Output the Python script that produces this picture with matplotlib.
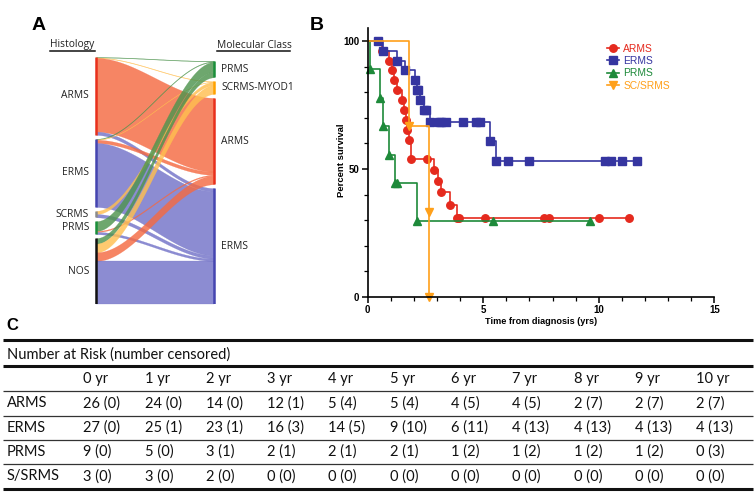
import numpy as np
import matplotlib
matplotlib.use("Agg")
import matplotlib.pyplot as plt

# ---- panel A: sankey (histology -> molecular class) ----
hist_names = ["ARMS", "ERMS", "SCRMS", "PRMS", "NOS"]
mol_names = ["PRMS", "SCRMS-MYOD1", "ARMS", "ERMS"]
# weights per histology row, columns follow mol_names
flow_arms = [0.15, 0.15, 22.7, 1.0]
flow_erms = [0.2, 0.1, 1.0, 19.7]
flow_scrms = [0.0, 1.0, 0.0, 1.0]
flow_prms = [3.0, 0.0, 0.3, 0.7]
flow_nos = [1.7, 2.7, 2.6, 13.3]

# ---- panel B: Kaplan-Meier ----
arms_t = [0.63, 0.92, 1.07, 1.15, 1.25, 1.47, 1.59, 1.66, 1.72, 1.80, 1.86, 2.57,
          2.87, 3.06, 3.19, 3.55, 3.85, 3.97, 5.06, 7.65, 7.84, 10.03, 11.31]
arms_s = [96.2, 92.3, 88.5, 84.6, 80.8, 76.9, 73.1, 69.2, 65.4, 61.5, 53.8, 53.8,
          49.7, 45.5, 41.2, 35.8, 30.7, 30.7, 30.7, 30.7, 30.7, 30.7, 30.7]
erms_t = [0.45, 0.65, 1.27, 1.61, 2.04, 2.14, 2.18, 2.27, 2.45, 2.52, 2.68, 3.10,
          3.18, 3.38, 4.14, 4.69, 4.86, 5.31, 5.57, 6.06, 6.98, 10.27, 10.53, 11.02, 11.66]
erms_s = [100, 96.2, 92.3, 88.5, 84.6, 80.8, 80.8, 76.9, 73.1, 73.1, 68.4, 68.4,
          68.4, 68.4, 68.4, 68.4, 68.4, 60.8, 53.2, 53.2, 53.2, 53.2, 53.2, 53.2, 53.2]
prms_t = [0.10, 0.52, 0.65, 0.91, 1.18, 1.28, 2.12, 5.41, 9.61]
prms_s = [88.9, 77.8, 66.7, 55.6, 44.4, 44.4, 29.6, 29.6, 29.6]
scs_t = [1.79, 2.65, 2.65]
scs_s = [66.7, 33.3, 0.0]

# ---- panel C: number at risk table ----
risk_cols = ["0 yr", "1 yr", "2 yr", "3 yr", "4 yr", "5 yr", "6 yr", "7 yr", "8 yr", "9 yr", "10 yr"]
risk_rows = ["ARMS", "ERMS", "PRMS", "S/SRMS"]
risk_arms = ["26 (0)", "24 (0)", "14 (0)", "12 (1)", "5 (4)", "5 (4)", "4 (5)", "4 (5)", "2 (7)", "2 (7)", "2 (7)"]
risk_erms = ["27 (0)", "25 (1)", "23 (1)", "16 (3)", "14 (5)", "9 (10)", "6 (11)", "4 (13)", "4 (13)", "4 (13)", "4 (13)"]
risk_prms = ["9 (0)", "5 (0)", "3 (1)", "2 (1)", "2 (1)", "2 (1)", "1 (2)", "1 (2)", "1 (2)", "1 (2)", "0 (3)"]
risk_scs = ["3 (0)", "3 (0)", "2 (0)", "0 (0)", "0 (0)", "0 (0)", "0 (0)", "0 (0)", "0 (0)", "0 (0)", "0 (0)"]

W, H = 756, 496
fig = plt.figure(figsize=(W / 100, H / 100), dpi=100)

# overlay axes in pixel coords for labels / table
ov = fig.add_axes([0, 0, 1, 1])
ov.set_xlim(0, W)
ov.set_ylim(H, 0)
ov.axis("off")

lab_font = "Open Sans"
tab_font = "Lato"

# ================= A =================
flows = np.array([flow_arms, flow_erms, flow_scrms, flow_prms, flow_nos])
band_col = ["#4e944e", "#ffbf50", "#f56a42", "#7373c8"]
mol_node_col = ["#1a8f3a", "#ffa200", "#e8301c", "#4545b0"]
hist_node_col = ["#e8301c", "#4545b0", "#8c8c8c", "#1a8f3a", "#111111"]

gap = 1.2
hist_tot = flows.sum(axis=1)
mol_tot = flows.sum(axis=0)
ytop_l = hist_tot.sum() + gap * (len(hist_tot) - 1)
ytop_r = mol_tot.sum() + gap * (len(mol_tot) - 1)

axA = fig.add_axes([90 / W, (H - 304) / H, 130 / W, 247 / H])
axA.set_xlim(-6 / 118, 1 + 6 / 118)
axA.set_ylim(0, ytop_l)
axA.axis("off")

# node extents
hist_top = []
y = ytop_l
for h in hist_tot:
    hist_top.append(y)
    y -= h + gap
mol_top = []
y = ytop_r
for h in mol_tot:
    mol_top.append(y)
    y -= h + gap

src_off = list(hist_top)
tgt_off = list(mol_top)
xs = np.linspace(0, 1, 150)
sm = 3 * xs ** 2 - 2 * xs ** 3
bands = []
for i in range(len(hist_names)):
    for j in range(len(mol_names)):
        w = flows[i, j]
        if w <= 0:
            continue
        s0 = src_off[i]
        src_off[i] -= w
        bands.append((i, j, w, s0))
for i, j, w, s0 in bands:
    t0 = tgt_off[j]
    tgt_off[j] -= w
    top = s0 + (t0 - s0) * sm
    bot = top - w
    axA.fill_between(xs, bot, top, color=band_col[j], alpha=0.82, lw=0.2,
                     edgecolor=band_col[j])

for i, name in enumerate(hist_names):
    t = hist_top[i]
    b = t - hist_tot[i]
    axA.vlines(0, b, t, color=hist_node_col[i], lw=1.8)
    axA.text(-0.06, (t + b) / 2, name, ha="right", va="center",
             fontsize=7.4, family=lab_font, color="#222222")
for j, name in enumerate(mol_names):
    t = mol_top[j]
    b = t - mol_tot[j]
    axA.vlines(1, b, t, color=mol_node_col[j], lw=1.8)
    axA.text(1.06, (t + b) / 2, name, ha="left", va="center",
             fontsize=7.4, family=lab_font, color="#222222")

ov.text(50, 45, "Histology", ha="left", va="center", fontsize=7.4, family=lab_font, color="#222222")
ov.plot([50, 95], [51, 51], color="#111111", lw=1.1)
ov.text(217, 45, "Molecular Class", ha="left", va="center", fontsize=7.4, family=lab_font, color="#222222")
ov.plot([217, 290], [51, 51], color="#111111", lw=1.1)

ov.text(39, 25, "A", ha="center", va="center", fontsize=14, fontweight="bold", family="Liberation Sans")
ov.text(317, 25, "B", ha="center", va="center", fontsize=14, fontweight="bold", family="Liberation Sans")
ov.text(12, 326, "C", ha="center", va="center", fontsize=12, fontweight="bold", family="Liberation Sans")

# ================= B =================
axB = fig.add_axes([367.7 / W, (H - 297) / H, 346.6 / W, 268.8 / H])
km = [
    ("ARMS", arms_t, arms_s, "#e52a1e", "o"),
    ("ERMS", erms_t, erms_s, "#3535a0", "s"),
    ("PRMS", prms_t, prms_s, "#1e8a3a", "^"),
    ("SC/SRMS", scs_t, scs_s, "#ffa01a", "v"),
]
for name, t, s, c, m in km:
    x = [0] + t
    yv = [100] + s
    axB.plot(x, yv, drawstyle="steps-post", color=c, lw=1.2, marker=m, ms=5.4,
             markevery=list(range(1, len(x))), label=name, clip_on=False)

axB.set_xlim(0, 15)
axB.set_ylim(0, 105)
axB.spines["top"].set_visible(False)
axB.spines["right"].set_visible(False)
for sp in ("left", "bottom"):
    axB.spines[sp].set_linewidth(1.2)
axB.set_xticks([0, 5, 10, 15])
axB.set_xticks(np.arange(0, 16, 1), minor=True)
axB.set_yticks([0, 50, 100])
axB.set_yticks(np.arange(0, 101, 10), minor=True)
axB.tick_params(which="major", length=4, width=1.1, labelsize=7, pad=2)
axB.tick_params(which="minor", length=3, width=0.9)
for lbl in axB.get_xticklabels() + axB.get_yticklabels():
    lbl.set_fontweight("bold")
    lbl.set_family("Liberation Sans")
axB.set_xlabel("Time from diagnosis (yrs)", fontsize=6.6, fontweight="bold",
               family="Liberation Sans")
axB.set_ylabel("Percent survival", fontsize=6.8, fontweight="bold",
               family="Liberation Sans")
axB.yaxis.set_label_coords(-22 / 346.6, 0.507)
axB.xaxis.set_label_coords(0.5, -20 / 268.8)
axB.legend(loc="upper left", bbox_to_anchor=(0.672, 0.965), frameon=False,
           handlelength=1.2, handletextpad=0.4, labelspacing=0.22,
           borderaxespad=0.2, labelcolor="linecolor",
           prop={"family": "Liberation Sans", "size": 7.4})

# ================= C =================
col_x = [83.3 + 61.3 * k for k in range(len(risk_cols))]
ov.plot([3, 753], [339.5, 339.5], color="#111111", lw=2.2, solid_capstyle="butt")
ov.text(7, 355, "Number at Risk (number censored)", ha="left", va="center",
        fontsize=10.5, family=tab_font, color="#111111")
ov.plot([3, 753], [366, 366], color="#111111", lw=2.2, solid_capstyle="butt")
for k, c in enumerate(risk_cols):
    ov.text(col_x[k], 379, c, ha="left", va="center", fontsize=10.5, family=tab_font, color="#111111")
line_y = [391, 415.5, 440, 464.3]
for yy in line_y:
    ov.plot([3, 753], [yy, yy], color="#333333", lw=0.9, solid_capstyle="butt")
ov.plot([3, 753], [488.5, 488.5], color="#111111", lw=2.2, solid_capstyle="butt")
all_rows = [risk_arms, risk_erms, risk_prms, risk_scs]
for r, (name, vals) in enumerate(zip(risk_rows, all_rows)):
    yc = 391 + 24.4 * r + 12.2
    ov.text(7, yc, name, ha="left", va="center", fontsize=10.5, family=tab_font, color="#111111")
    for k, v in enumerate(vals):
        ov.text(col_x[k], yc, v, ha="left", va="center", fontsize=10.5, family=tab_font, color="#111111")

fig.savefig("out.png", dpi=100)
